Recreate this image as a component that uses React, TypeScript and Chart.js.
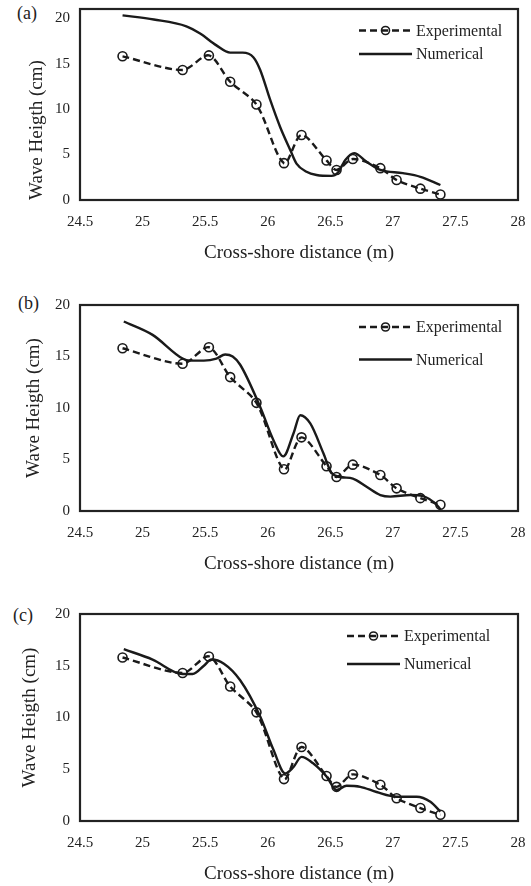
import { useEffect, useRef } from 'react'
import { Chart, registerables } from 'chart.js'

Chart.register(...registerables)
Chart.defaults.font.family = '"Liberation Serif", "Times New Roman", serif'
Chart.defaults.color = '#222'

// measured points, shared by all three panels
const expX = [24.84, 25.32, 25.53, 25.70, 25.91, 26.13, 26.27, 26.47, 26.55, 26.68, 26.90, 27.03, 27.22, 27.38]
const expY = [15.8, 14.3, 15.9, 13.0, 10.5, 4.05, 7.15, 4.35, 3.3, 4.5, 3.5, 2.2, 1.25, 0.6]

// numerical runs
const numAX = [24.84, 25.09, 25.35, 25.46, 25.59, 25.70, 25.80, 25.885, 25.94, 26.02, 26.10, 26.18, 26.23, 26.31, 26.39, 26.51, 26.56, 26.62, 26.69, 26.79, 26.90, 27.08, 27.22, 27.38]
const numAY = [20.3, 19.85, 19.1, 18.3, 17.0, 16.2, 16.2, 15.7, 14.3, 11.0, 8.0, 5.5, 4.0, 3.1, 2.75, 2.65, 3.0, 4.4, 5.15, 4.2, 3.3, 2.95, 2.55, 1.65]

const numBX = [24.85, 25.08, 25.32, 25.38, 25.49, 25.59, 25.66, 25.72, 25.78, 25.94, 26.045, 26.125, 26.205, 26.26, 26.34, 26.445, 26.51, 26.58, 26.68, 26.79, 26.90, 26.98, 27.14, 27.24, 27.35, 27.38]
const numBY = [18.4, 17.1, 14.8, 14.6, 14.6, 14.8, 15.2, 15.0, 14.2, 10.1, 6.9, 5.3, 7.5, 9.3, 8.5, 5.6, 3.7, 3.3, 3.15, 2.35, 1.55, 1.4, 1.55, 1.45, 0.6, 0.15]

const numCX = [24.85, 25.08, 25.32, 25.40, 25.49, 25.55, 25.65, 25.78, 25.94, 26.045, 26.14, 26.205, 26.27, 26.36, 26.47, 26.55, 26.63, 26.74, 26.87, 27.03, 27.19, 27.30, 27.38]
const numCY = [16.6, 15.6, 14.2, 14.2, 15.0, 15.6, 15.2, 13.6, 10.1, 6.9, 4.6, 5.2, 6.2, 5.6, 4.3, 3.0, 3.4, 3.3, 2.8, 2.35, 2.35, 1.85, 0.9]

const xMin = 24.5
const xMax = 28
const xStep = 0.5
const yStep = 5

const pts = (xs: number[], ys: number[]) => xs.map((x, i) => ({ x, y: ys[i] }))

const boxPlugin = {
  id: 'box',
  afterDraw(chart: any) {
    const { ctx, chartArea: a } = chart
    ctx.save()
    ctx.strokeStyle = '#222'
    ctx.lineWidth = 2.2
    ctx.strokeRect(a.left, a.top, a.right - a.left, a.bottom - a.top)
    ctx.restore()
  }
}

const legendPlugin = {
  id: 'lineLegend',
  afterDraw(chart: any, _args: any, opts: any) {
    const { ctx, chartArea } = chart
    ctx.save()
    ctx.font = '16px "Liberation Serif", serif'
    ctx.textBaseline = 'middle'
    ctx.fillStyle = '#222'
    chart.data.datasets.forEach((ds: any, i: number) => {
      const y = chartArea.top + opts.rows[i]
      const x0 = opts.x
      const x1 = opts.x + 53
      ctx.strokeStyle = ds.borderColor
      ctx.lineWidth = ds.borderWidth
      ctx.setLineDash(ds.borderDash || [])
      ctx.beginPath()
      ctx.moveTo(x0, y)
      ctx.lineTo(x1, y)
      ctx.stroke()
      ctx.setLineDash([])
      if (ds.pointRadius > 0) {
        ctx.lineWidth = 1.6
        ctx.beginPath()
        ctx.arc((x0 + x1) / 2, y, 4, 0, Math.PI * 2)
        ctx.stroke()
      }
      ctx.fillText(ds.label, x1 + 4, y + 1)
    })
    ctx.restore()
  }
}

type PanelProps = {
  tag: string
  tagX: number
  tagY: number
  top: number
  height: number
  padTop: number
  yMax: number
  numX: number[]
  numY: number[]
  legendX: number
  legendRows: number[]
  yTitlePad: number
  yTitleAlign: 'start' | 'center'
}

function Panel(p: PanelProps) {
  const ref = useRef<HTMLCanvasElement>(null)

  useEffect(() => {
    if (!ref.current) return
    const chart = new Chart(ref.current, {
      type: 'line',
      data: {
        datasets: [
          {
            label: 'Experimental',
            data: pts(expX, expY),
            borderColor: '#1a1a1a',
            borderWidth: 2.4,
            borderDash: [7, 4],
            tension: 0.3,
            pointRadius: 4.5,
            pointBorderWidth: 1.6,
            pointBackgroundColor: 'rgba(0,0,0,0)',
            pointBorderColor: '#1a1a1a'
          },
          {
            label: 'Numerical',
            data: pts(p.numX, p.numY),
            borderColor: '#1a1a1a',
            borderWidth: 2.4,
            cubicInterpolationMode: 'monotone',
            pointRadius: 0
          }
        ]
      },
      options: {
        animation: false,
        responsive: false,
        layout: { padding: { top: p.padTop, right: 13, left: 0, bottom: 0 } },
        plugins: {
          legend: { display: false },
          tooltip: { enabled: false },
          lineLegend: { x: p.legendX, rows: p.legendRows }
        } as any,
        scales: {
          x: {
            type: 'linear',
            min: xMin,
            max: xMax,
            grid: { display: false, drawTicks: false },
            border: { display: false },
            ticks: {
              stepSize: xStep,
              padding: 13,
              font: { size: 15 },
              color: '#222',
              callback: (v: any) => String(Number(v))
            },
            title: {
              display: true,
              text: 'Cross-shore distance (m)',
              font: { size: 19 },
              color: '#222',
              padding: { top: 0, bottom: 1 }
            },
            afterFit: (s: any) => {
              s.height = 65
              s.paddingLeft = 0
              s.paddingRight = 0
            }
          },
          y: {
            min: 0,
            max: p.yMax,
            grid: { display: false, drawTicks: false },
            border: { display: false },
            ticks: { stepSize: yStep, includeBounds: false, padding: 10, font: { size: 15 }, color: '#222' },
            title: {
              display: true,
              text: 'Wave Heigth (cm)',
              font: { size: 19 },
              color: '#222',
              align: p.yTitleAlign,
              padding: { top: p.yTitlePad, bottom: 0 }
            },
            afterFit: (s: any) => {
              s.width = 80
              s.paddingTop = 0
              s.paddingBottom = 0
            }
          }
        }
      },
      plugins: [boxPlugin, legendPlugin]
    })
    return () => chart.destroy()
  }, [])

  return (
    <>
      <span
        style={{
          position: 'absolute',
          left: p.tagX,
          top: p.tagY - 10,
          fontFamily: '"Liberation Serif", serif',
          fontSize: 18,
          lineHeight: '20px',
          color: '#222'
        }}
      >
        {p.tag}
      </span>
      <canvas
        ref={ref}
        width={531}
        height={p.height}
        style={{ position: 'absolute', left: 0, top: p.top, width: 531, height: p.height }}
      />
    </>
  )
}

export default function App() {
  return (
    <div style={{ position: 'absolute', left: 0, top: 0, width: 531, height: 886, overflow: 'hidden', background: '#fff' }}>
      <Panel tag="(a)" tagX={17} tagY={13} top={0} height={265} padTop={9} yMax={21}
        numX={numAX} numY={numAY} legendX={359} legendRows={[21.5, 45]} yTitlePad={26} yTitleAlign="start" />
      <Panel tag="(b)" tagX={18} tagY={303} top={290} height={286} padTop={15} yMax={20}
        numX={numBX} numY={numBY} legendX={359} legendRows={[22, 54.5]} yTitlePad={23} yTitleAlign="center" />
      <Panel tag="(c)" tagX={13} tagY={615} top={599} height={287} padTop={15} yMax={20}
        numX={numCX} numY={numCY} legendX={347} legendRows={[22, 50]} yTitlePad={19} yTitleAlign="center" />
    </div>
  )
}
